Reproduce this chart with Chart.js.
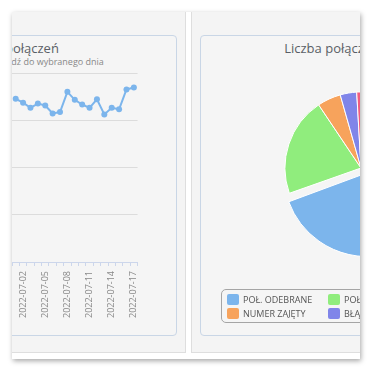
<!DOCTYPE html>
<html lang="pl">
<head>
<meta charset="UTF-8">
<title>Liczba połączeń</title>
<style>
    html, body { margin: 0; background: #fff; }
    body {
        font-family: "Open Sans", sans-serif;
        width: 370px;
        height: 370px;
        overflow: hidden;
        position: relative;
    }
    .shot {
        position: absolute;
        left: 12px; top: 12px;
        width: 348px; height: 347px;
        overflow: hidden;
        background: #fff;
        box-shadow: 1px 2px 5px rgba(0,0,0,0.35);
    }
    .outer {
        position: absolute;
        top: -5px; height: 346px;
        box-sizing: border-box;
        border: 1px solid #dedede;
        background: #f4f4f4;
    }
    .inner {
        position: absolute;
        top: 23px; height: 301px;
        box-sizing: border-box;
        border: 1px solid #c9d6e6;
        border-radius: 4px;
        background: #f5f5f5;
    }
    .title, .subtitle {
        position: absolute;
        text-align: center;
        white-space: nowrap;
    }
    .title { font-size: 13px; line-height: 18px; color: #5a5f66; }
    .subtitle { font-size: 9px; line-height: 12px; color: #888; }
    .chart { position: absolute; }
    .legend {
        position: absolute;
        left: 209px; top: 277px;
        box-sizing: border-box;
        border: 1px solid #a5a5a5;
        border-radius: 5px;
        padding: 2px 5px 1px 5px;
        display: grid;
        grid-template-columns: repeat(3, 101px);
        white-space: nowrap;
    }
    .legend .item {
        height: 14.5px;
        display: flex;
        align-items: center;
        font-size: 9px;
        color: #555;
    }
    .legend .box {
        width: 12px; height: 11px;
        border-radius: 2px;
        margin-right: 4px;
        flex: none;
    }
</style>
</head>
<body>
<div class="shot">
    <div class="outer" style="left:-190px; width:364px;"></div>
    <div class="outer" style="left:179px; width:349px;"></div>

    <div class="inner" style="left:-172px; width:337px;"></div>
    <div class="inner" style="left:188px; width:322px;"></div>

    <div class="title" style="left:-168px; width:335px; top:27px;">Liczba połączeń</div>
    <div class="subtitle" style="left:-168px; width:335px; top:44px;">Kliknij na punkt i przejdź do wybranego dnia</div>
    <div class="chart" style="left:-30px; top:53px; width:168px; height:257px;">
        <canvas id="lineChart"></canvas>
    </div>

    <div class="title" style="left:194px; width:320px; top:27px;">Liczba połączeń wg statusu</div>
    <div class="chart" style="left:189px; top:24px; width:320px; height:264px;">
        <canvas id="pieChart"></canvas>
    </div>
    <div class="legend" id="pieLegend"></div>
</div>

<script src="https://cdn.jsdelivr.net/npm/chart.js"></script>
<script>
    // dzienna liczba połączeń
    const days = ['2022-07-01', '2022-07-02', '2022-07-03', '2022-07-04', '2022-07-05', '2022-07-06',
        '2022-07-07', '2022-07-08', '2022-07-09', '2022-07-10', '2022-07-11', '2022-07-12',
        '2022-07-13', '2022-07-14', '2022-07-15', '2022-07-16', '2022-07-17'];
    const callsPerDay = [346, 338, 327, 336, 332, 315, 318, 361, 344, 334, 327, 345, 313, 327, 324, 366, 370];
    const yTicks = [0, 100, 200, 300, 400];

    // połączenia wg statusu (%)
    const statusLabels = ['POŁ. ODEBRANE', 'POŁ. NIEODEBRANE', 'POCZTA GŁOSOWA', 'NUMER ZAJĘTY', 'BŁĄD POŁĄCZENIA', 'ODRZUCONE'];
    const statusValues = [69.6, 21.0, 0, 5.0, 3.5, 0.9];
    const statusColors = ['#7cb5ec', '#90ed7d', '#434348', '#f7a35c', '#8085e9', '#f15c80'];

    Chart.defaults.font.family = '"Open Sans", sans-serif';
    Chart.defaults.animation = false;

    new Chart(document.getElementById('lineChart'), {
        type: 'line',
        data: {
            labels: days,
            datasets: [{
                data: callsPerDay,
                borderColor: '#7cb5ec',
                backgroundColor: '#7cb5ec',
                borderWidth: 2,
                pointRadius: 3,
                pointBorderWidth: 0,
                tension: 0
            }]
        },
        options: {
            responsive: true,
            maintainAspectRatio: false,
            devicePixelRatio: 1,
            layout: { padding: { top: 8, right: 11.5, left: 0, bottom: 0 } },
            plugins: { legend: { display: false }, tooltip: { enabled: false } },
            scales: {
                x: {
                    offset: true,
                    afterFit: scale => { scale.height = 60; },
                    grid: { offset: true, drawOnChartArea: false, tickLength: 4, color: '#ccd6eb' },
                    border: { color: '#ccd6eb' },
                    ticks: {
                        autoSkip: false,
                        minRotation: 90,
                        maxRotation: 90,
                        padding: 5,
                        color: '#888',
                        font: { size: 9 },
                        callback: (value, index) => (index % 3 === 1 ? days[index] : '')
                    }
                },
                y: {
                    min: yTicks[0],
                    max: yTicks[yTicks.length - 1],
                    afterFit: scale => { scale.width = 30; },
                    afterBuildTicks: scale => { scale.ticks = yTicks.map(v => ({ value: v })); },
                    grid: { color: '#dcdcdc', drawTicks: false },
                    border: { display: false },
                    ticks: { color: '#888', font: { size: 9 } }
                }
            }
        }
    });

    new Chart(document.getElementById('pieChart'), {
        type: 'pie',
        data: {
            labels: statusLabels,
            datasets: [{
                data: statusValues,
                backgroundColor: statusColors,
                borderColor: '#ffffff',
                borderWidth: 1,
                radius: 76,
                offset: [32, 0, 0, 0, 0, 0]
            }]
        },
        options: {
            responsive: true,
            maintainAspectRatio: false,
            devicePixelRatio: 1,
            plugins: { legend: { display: false }, tooltip: { enabled: false } }
        }
    });

    const legend = document.getElementById('pieLegend');
    statusLabels.forEach((label, i) => {
        const item = document.createElement('div');
        item.className = 'item';
        item.innerHTML = '<span class="box" style="background:' + statusColors[i] + '"></span>' + label;
        legend.appendChild(item);
    });
</script>
</body>
</html>
